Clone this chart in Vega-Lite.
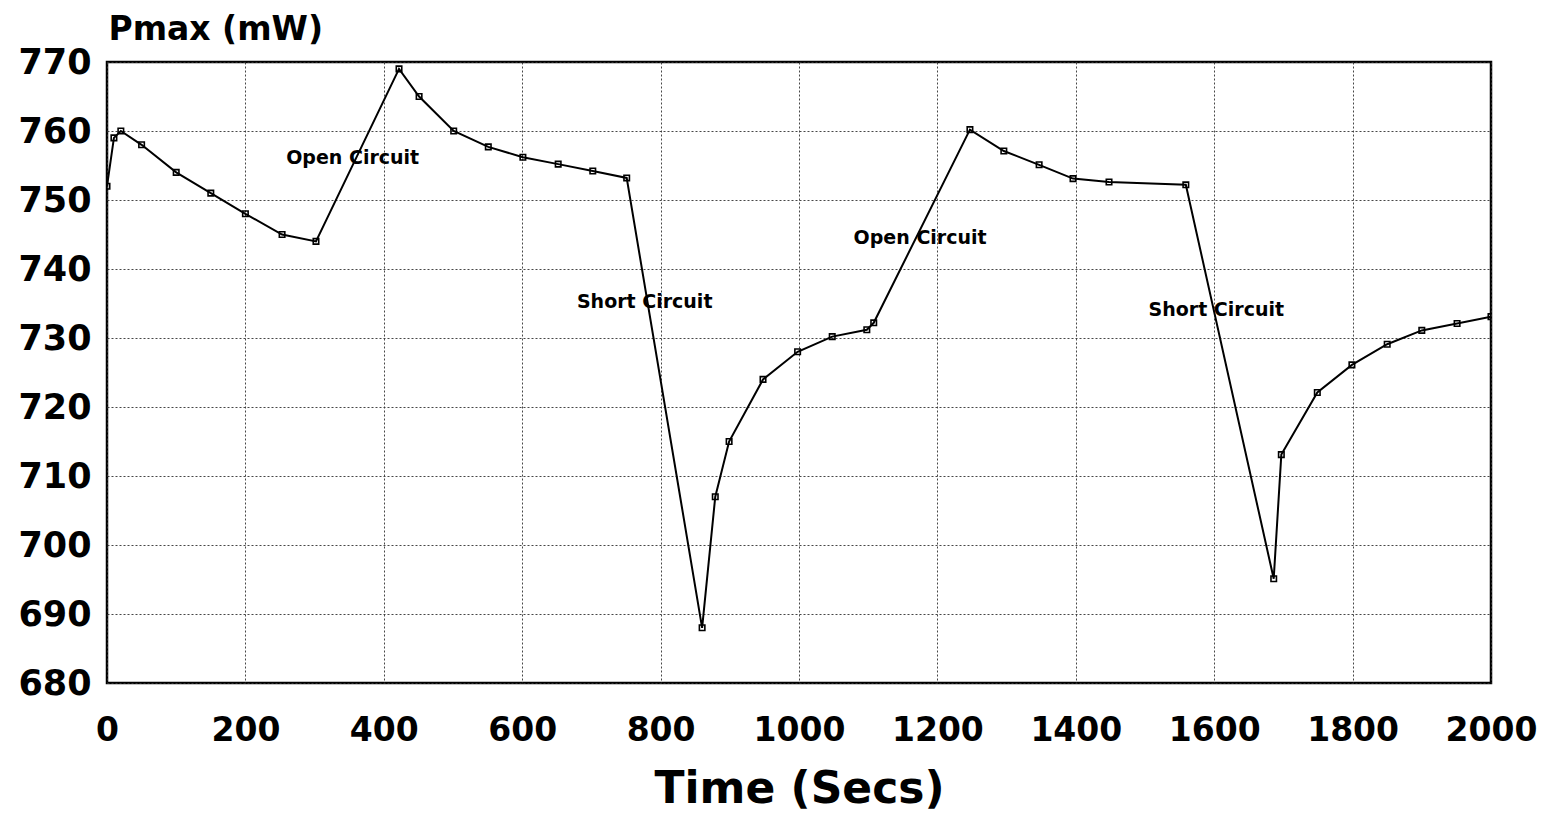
{
  "$schema": "https://vega.github.io/schema/vega-lite/v6.json",
  "width": 1384,
  "height": 621,
  "autosize": {"type": "none"},
  "padding": {"left": 107, "top": 62, "right": 63, "bottom": 142},
  "background": "white",
  "config": {
    "view": {"stroke": "black", "strokeWidth": 2.5},
    "font": "DejaVu Sans",
    "axis": {
      "labelFont": "DejaVu Sans",
      "labelFontWeight": "bold",
      "labelColor": "black",
      "titleFont": "DejaVu Sans",
      "titleFontWeight": "bold",
      "titleColor": "black",
      "domain": false,
      "ticks": false,
      "grid": true,
      "gridColor": "#333333",
      "gridDash": [2, 2],
      "gridWidth": 1,
      "gridOpacity": 0.9,
      "labelOverlap": false,
      "labelBound": false,
      "labelFlush": false
    }
  },
  "data": {
    "values": [
      {"t": 0, "p": 752},
      {"t": 10, "p": 759},
      {"t": 20, "p": 760},
      {"t": 50, "p": 758},
      {"t": 100, "p": 754},
      {"t": 150, "p": 751},
      {"t": 200, "p": 748},
      {"t": 253, "p": 745},
      {"t": 302, "p": 744},
      {"t": 422, "p": 769},
      {"t": 451, "p": 765},
      {"t": 501, "p": 760},
      {"t": 551, "p": 757.7},
      {"t": 601, "p": 756.2},
      {"t": 652, "p": 755.2},
      {"t": 702, "p": 754.2},
      {"t": 751, "p": 753.2},
      {"t": 860, "p": 688},
      {"t": 879, "p": 707},
      {"t": 899, "p": 715},
      {"t": 948, "p": 724},
      {"t": 998, "p": 728},
      {"t": 1048, "p": 730.2},
      {"t": 1098, "p": 731.2},
      {"t": 1108, "p": 732.2},
      {"t": 1247, "p": 760.2},
      {"t": 1296, "p": 757.1},
      {"t": 1347, "p": 755.1},
      {"t": 1396, "p": 753.1},
      {"t": 1448, "p": 752.6},
      {"t": 1559, "p": 752.2},
      {"t": 1686, "p": 695.1},
      {"t": 1697, "p": 713.1},
      {"t": 1749, "p": 722.1},
      {"t": 1799, "p": 726.1},
      {"t": 1850, "p": 729.1},
      {"t": 1900, "p": 731.1},
      {"t": 1951, "p": 732.1},
      {"t": 2000, "p": 733.1}
    ]
  },
  "encoding": {
    "x": {
      "field": "t",
      "type": "quantitative",
      "scale": {"domain": [0, 2000], "nice": false, "zero": false},
      "axis": {
        "values": [0, 200, 400, 600, 800, 1000, 1200, 1400, 1600, 1800, 2000],
        "labelFontSize": 33,
        "labelPadding": 31,
        "format": "d",
        "title": "Time (Secs)",
        "titleFontSize": 44,
        "titleBaseline": "alphabetic",
        "titleY": 119
      }
    },
    "y": {
      "field": "p",
      "type": "quantitative",
      "scale": {"domain": [680, 770], "nice": false, "zero": false},
      "axis": {
        "values": [680, 690, 700, 710, 720, 730, 740, 750, 760, 770],
        "labelFontSize": 35,
        "labelPadding": 16,
        "labelBaseline": "middle",
        "title": "Pmax (mW)",
        "titleFontSize": 33,
        "titleAngle": 0,
        "titleAlign": "left",
        "titleBaseline": "alphabetic",
        "titleX": 1,
        "titleY": -23
      }
    }
  },
  "layer": [
    {
      "mark": {"type": "line", "color": "black", "strokeWidth": 2, "clip": true}
    },
    {
      "mark": {"type": "point", "shape": "square", "size": 30, "filled": false, "stroke": "black", "strokeWidth": 1.6, "opacity": 1, "clip": true}
    },
    {
      "data": {
        "values": [
          {"t": 355, "p": 756.1, "label": "Open Circuit"},
          {"t": 777, "p": 735.2, "label": "Short Circuit"},
          {"t": 1175, "p": 744.5, "label": "Open Circuit"},
          {"t": 1603, "p": 734.0, "label": "Short Circuit"}
        ]
      },
      "mark": {"type": "text", "font": "DejaVu Sans", "fontWeight": "bold", "fontSize": 19, "align": "center", "baseline": "middle", "color": "black"},
      "encoding": {
        "text": {"field": "label"}
      }
    }
  ]
}
